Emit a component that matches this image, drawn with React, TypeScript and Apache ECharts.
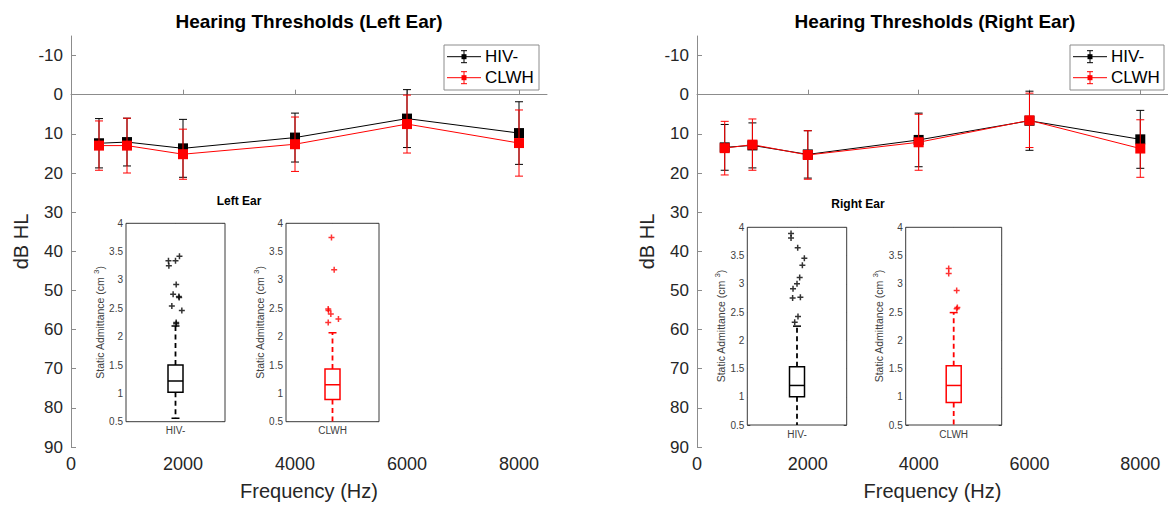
import React, { useEffect, useRef } from 'react';
import * as echarts from 'echarts';

const frequencies = [500, 1000, 2000, 4000, 6000, 8000];
const yTicks = [-10, 0, 10, 20, 30, 40, 50, 60, 70, 80, 90];
const xTicks = [0, 2000, 4000, 6000, 8000];

const leftHivMean = [12.4, 12.1, 13.7, 10.95, 6.1, 9.8];
const leftHivSd = [6.3, 6.1, 7.4, 6.25, 7.4, 8.0];
const leftClwhMean = [13.0, 13.0, 15.2, 12.65, 7.5, 12.35];
const leftClwhSd = [6.3, 7.0, 6.4, 6.95, 7.4, 8.45];

const rightHivMean = [13.45, 12.95, 15.25, 11.55, 6.65, 11.4];
const rightHivSd = [5.85, 5.75, 6.05, 6.85, 7.55, 7.4];
const rightClwhMean = [13.65, 12.75, 15.4, 12.15, 6.55, 13.75];
const rightClwhSd = [6.85, 6.55, 6.2, 7.15, 6.95, 7.35];

// boxplot stats: [lower whisker, q1, median, q3, upper whisker]
const leftHivBox = [0.56, 1.02, 1.22, 1.5, 2.19];
const leftClwhBox = [0.4, 0.89, 1.15, 1.43, 2.07];
const rightHivBox = [0.4, 1.0, 1.2, 1.53, 2.25];
const rightClwhBox = [0.4, 0.9, 1.2, 1.55, 2.49];

// outliers: [x position (1 = centre), value]
const leftHivOut = [[0.929, 3.34], [0.933, 3.25], [1.0, 3.34], [1.04, 3.42], [1.007, 2.92], [0.976, 2.75], [1.034, 2.71], [1.037, 2.69], [0.963, 2.54], [1.064, 2.46], [1.007, 2.25], [1.007, 2.23]];
const leftClwhOut = [[0.989, 3.75], [1.018, 3.18], [0.954, 2.49], [0.957, 2.46], [0.982, 2.4], [1.064, 2.31], [0.954, 2.25]];
const rightHivOut = [[0.94, 3.89], [0.94, 3.81], [1.007, 3.64], [1.074, 3.45], [1.054, 3.33], [1.027, 3.11], [1.0, 3.0], [0.96, 2.91], [1.034, 2.76], [0.956, 2.75], [1.01, 2.42], [0.977, 2.32]];
const rightClwhOut = [[0.948, 3.27], [0.948, 3.18], [1.031, 2.88], [1.038, 2.58], [1.031, 2.56]];

const groupNames = ['HIV-', 'CLWH'];
const panelTitles = ['Hearing Thresholds (Left Ear)', 'Hearing Thresholds (Right Ear)'];
const insetTitles = ['Left Ear', 'Right Ear'];

const FONT = '"Liberation Sans", Arial, Helvetica, sans-serif';
const BLACK = '#000000';
const RED = '#ff0000';
const AXIS_GRAY = '#8c8c8c';
const LABEL = '#262626';
const PLUS = 'path://M-1,-4L1,-4L1,-1L4,-1L4,1L1,1L1,4L-1,4L-1,1L-4,1L-4,-1L-1,-1Z';

function errorRender(color: string) {
  return (params: any, api: any) => {
    const x = api.value(0);
    const m = api.value(1);
    const s = api.value(2);
    const top = api.coord([x, m - s]);
    const bot = api.coord([x, m + s]);
    const hw = 4;
    const style = { stroke: color, lineWidth: 1 };
    return {
      type: 'group',
      children: [
        { type: 'line', shape: { x1: top[0], y1: top[1], x2: bot[0], y2: bot[1] }, style },
        { type: 'line', shape: { x1: top[0] - hw, y1: top[1], x2: top[0] + hw, y2: top[1] }, style },
        { type: 'line', shape: { x1: bot[0] - hw, y1: bot[1], x2: bot[0] + hw, y2: bot[1] }, style },
      ],
    };
  };
}

function boxRender(color: string) {
  return (params: any, api: any) => {
    const x = api.value(0);
    const lo = api.coord([x, api.value(1)]);
    const q1 = api.coord([x, api.value(2)]);
    const med = api.coord([x, api.value(3)]);
    const q3 = api.coord([x, api.value(4)]);
    const hi = api.coord([x, api.value(5)]);
    const hw = 7.5;
    const cw = 4;
    const cx = q1[0];
    const solid = { stroke: color, lineWidth: 1.5, fill: 'none' };
    const dashed = { stroke: color, lineWidth: 1.8, lineDash: [5, 3.5], fill: 'none' };
    return {
      type: 'group',
      children: [
        { type: 'line', shape: { x1: cx, y1: q3[1], x2: cx, y2: hi[1] }, style: dashed },
        { type: 'line', shape: { x1: cx, y1: q1[1], x2: cx, y2: lo[1] }, style: dashed },
        { type: 'line', shape: { x1: cx - cw, y1: hi[1], x2: cx + cw, y2: hi[1] }, style: solid },
        { type: 'line', shape: { x1: cx - cw, y1: lo[1], x2: cx + cw, y2: lo[1] }, style: solid },
        { type: 'rect', shape: { x: cx - hw, y: q3[1], width: hw * 2, height: q1[1] - q3[1] }, style: { stroke: color, lineWidth: 1.5, fill: '#ffffff' } },
        { type: 'line', shape: { x1: cx - hw, y1: med[1], x2: cx + hw, y2: med[1] }, style: solid },
      ],
    };
  };
}

function legendGraphic(x: number, y: number, w: number, h: number): any[] {
  const items: any[] = [
    { type: 'rect', shape: { x, y, width: w, height: h }, style: { fill: '#ffffff', stroke: AXIS_GRAY, lineWidth: 1 }, z: 10 },
  ];
  const rows = [y + 11.7, y + 32.7];
  const colors = [BLACK, RED];
  rows.forEach((ry, i) => {
    const c = colors[i];
    const mx = x + 20;
    const st = { stroke: c, lineWidth: 1 };
    items.push(
      { type: 'line', shape: { x1: x + 3, y1: ry, x2: x + 37, y2: ry }, style: st, z: 11 },
      { type: 'line', shape: { x1: mx, y1: ry - 6, x2: mx, y2: ry + 6 }, style: st, z: 11 },
      { type: 'line', shape: { x1: mx - 3, y1: ry - 6, x2: mx + 3, y2: ry - 6 }, style: st, z: 11 },
      { type: 'line', shape: { x1: mx - 3, y1: ry + 6, x2: mx + 3, y2: ry + 6 }, style: st, z: 11 },
      { type: 'rect', shape: { x: mx - 2.5, y: ry - 2.5, width: 5, height: 5 }, style: { fill: c }, z: 11 },
      { type: 'text', x: x + 41, y: ry, style: { text: groupNames[i], fill: BLACK, font: `17px ${FONT}`, verticalAlign: 'middle' }, z: 11 },
    );
  });
  return items;
}

export default function App() {
  const ref = useRef<HTMLDivElement>(null);
  useEffect(() => {
    if (!ref.current) return;
    const chart = echarts.init(ref.current, null, { renderer: 'svg' });

    const mainGrids = [
      { left: 71, top: 36, width: 476, height: 412 },
      { left: 697, top: 36, width: 476, height: 412 },
    ];
    const insetGrids = [
      { left: 126, top: 223.3, width: 99, height: 198.4 },
      { left: 286, top: 223.3, width: 93, height: 198.4 },
      { left: 747.3, top: 227.3, width: 99.4, height: 197.7 },
      { left: 905.7, top: 227.3, width: 96, height: 197.7 },
    ];
    const grids: any[] = [
      ...mainGrids.map((g) => ({ ...g, containLabel: false })),
      ...insetGrids.map((g) => ({ ...g, show: true, backgroundColor: '#ffffff', borderColor: '#3a3a3a', borderWidth: 1, z: 3 })),
    ];

    const mainX = (gi: number) => ({
      type: 'value', gridIndex: gi, min: 0, max: 8500,
      name: 'Frequency (Hz)', nameLocation: 'middle', nameGap: 34,
      nameTextStyle: { fontFamily: FONT, fontSize: 20, color: LABEL },
      axisLine: { show: true, lineStyle: { color: AXIS_GRAY, width: 1 } },
      axisTick: { show: true, inside: true, length: 5, customValues: xTicks, lineStyle: { color: AXIS_GRAY } },
      axisLabel: { customValues: xTicks, formatter: (v: number) => String(v), fontFamily: FONT, fontSize: 18, color: LABEL, margin: 8 },
      splitLine: { show: false },
    });
    const mainY = (gi: number) => ({
      type: 'value', gridIndex: gi, min: -15, max: 90, inverse: true,
      name: 'dB HL', nameLocation: 'middle', nameGap: 40, nameRotate: 90,
      nameTextStyle: { fontFamily: FONT, fontSize: 20, color: LABEL },
      axisLine: { show: true, lineStyle: { color: AXIS_GRAY, width: 1 } },
      axisTick: { show: true, inside: true, length: 5, customValues: yTicks, lineStyle: { color: AXIS_GRAY } },
      axisLabel: { customValues: yTicks, formatter: (v: number) => String(v), fontFamily: FONT, fontSize: 17, color: LABEL, margin: 8 },
      splitLine: { show: false },
    });
    const insetX = (gi: number, name: string) => ({
      type: 'value', gridIndex: gi, min: 0.5, max: 1.5,
      axisLine: { show: false },
      axisTick: { show: true, inside: true, length: 3, customValues: [1], lineStyle: { color: '#3a3a3a' } },
      axisLabel: { customValues: [1], formatter: () => name, fontFamily: FONT, fontSize: 10, color: '#404040', margin: 4 },
      splitLine: { show: false },
    });
    const insetXTop = (gi: number) => ({
      type: 'value', gridIndex: gi, min: 0.5, max: 1.5, position: 'top',
      axisLine: { show: false },
      axisTick: { show: true, inside: true, length: 3, customValues: [1], lineStyle: { color: '#3a3a3a' } },
      axisLabel: { show: false },
      splitLine: { show: false },
    });
    const insetY = (gi: number) => ({
      type: 'value', gridIndex: gi, min: 0.5, max: 4, interval: 0.5,
      name: 'Static Admittance (cm {sup|3})', nameLocation: 'middle', nameGap: 19, nameRotate: 90,
      nameTextStyle: { fontFamily: FONT, fontSize: 10.5, color: '#404040', rich: { sup: { fontFamily: FONT, fontSize: 8, color: '#404040', verticalAlign: 'top', padding: [0, 0, 7, 0] } } },
      axisLine: { show: false },
      axisTick: { show: true, inside: true, length: 3, lineStyle: { color: '#3a3a3a' } },
      axisLabel: { fontFamily: FONT, fontSize: 10, color: '#404040', margin: 3 },
      splitLine: { show: false },
    });
    const insetYRight = (gi: number) => ({
      type: 'value', gridIndex: gi, min: 0.5, max: 4, interval: 0.5, position: 'right',
      axisLine: { show: false },
      axisTick: { show: true, inside: true, length: 3, lineStyle: { color: '#3a3a3a' } },
      axisLabel: { show: false },
      splitLine: { show: false },
    });

    const xAxes: any[] = [
      mainX(0), mainX(1),
      insetX(2, groupNames[0]), insetX(3, groupNames[1]), insetX(4, groupNames[0]), insetX(5, groupNames[1]),
      insetXTop(2), insetXTop(3), insetXTop(4), insetXTop(5),
    ];
    const yAxes: any[] = [
      mainY(0), mainY(1),
      insetY(2), insetY(3), insetY(4), insetY(5),
      insetYRight(2), insetYRight(3), insetYRight(4), insetYRight(5),
    ];

    const mainSeries = (idx: number, mean: number[], sd: number[], color: string, name: string) => [
      {
        type: 'line', name, xAxisIndex: idx, yAxisIndex: idx,
        data: frequencies.map((f, i) => [f, mean[i]]),
        lineStyle: { color, width: 1 }, itemStyle: { color },
        symbol: 'rect', symbolSize: 10, showSymbol: true, z: color === RED ? 4 : 3,
      },
      {
        type: 'custom', name: name + ' SD', xAxisIndex: idx, yAxisIndex: idx,
        data: frequencies.map((f, i) => [f, mean[i], sd[i]]),
        renderItem: errorRender(color), z: color === RED ? 4 : 3,
      },
    ];

    const insetSeries = (gi: number, box: number[], out: number[][], color: string) => [
      {
        type: 'custom', xAxisIndex: gi, yAxisIndex: gi, clip: true, z: 5,
        data: [[1, box[0], box[1], box[2], box[3], box[4]]],
        renderItem: boxRender(color),
      },
      {
        type: 'scatter', xAxisIndex: gi, yAxisIndex: gi, z: 6,
        data: out, symbol: PLUS, symbolSize: 6, itemStyle: { color },
      },
    ];

    const series: any[] = [
      ...mainSeries(0, leftHivMean, leftHivSd, BLACK, 'HIV- left'),
      ...mainSeries(0, leftClwhMean, leftClwhSd, RED, 'CLWH left'),
      ...mainSeries(1, rightHivMean, rightHivSd, BLACK, 'HIV- right'),
      ...mainSeries(1, rightClwhMean, rightClwhSd, RED, 'CLWH right'),
      ...insetSeries(2, leftHivBox, leftHivOut, BLACK),
      ...insetSeries(3, leftClwhBox, leftClwhOut, RED),
      ...insetSeries(4, rightHivBox, rightHivOut, BLACK),
      ...insetSeries(5, rightClwhBox, rightClwhOut, RED),
    ];

    const graphic: any[] = [
      { type: 'text', x: 309, y: 21, style: { text: panelTitles[0], fill: BLACK, font: `bold 19px ${FONT}`, align: 'center', verticalAlign: 'middle' } },
      { type: 'text', x: 935, y: 21, style: { text: panelTitles[1], fill: BLACK, font: `bold 19px ${FONT}`, align: 'center', verticalAlign: 'middle' } },
      { type: 'text', x: 239, y: 201, style: { text: insetTitles[0], fill: BLACK, font: `bold 12px ${FONT}`, align: 'center', verticalAlign: 'middle' } },
      { type: 'text', x: 858, y: 204, style: { text: insetTitles[1], fill: BLACK, font: `bold 12px ${FONT}`, align: 'center', verticalAlign: 'middle' } },
      ...legendGraphic(444, 45, 95, 45),
      ...legendGraphic(1070, 45, 94, 45),
    ];

    chart.setOption({
      animation: false,
      backgroundColor: '#ffffff',
      grid: grids,
      xAxis: xAxes,
      yAxis: yAxes,
      series,
      graphic,
    });
    return () => chart.dispose();
  }, []);
  return <div ref={ref} style={{ position: 'fixed', left: 0, top: 0, width: 1168, height: 506 }} />;
}
